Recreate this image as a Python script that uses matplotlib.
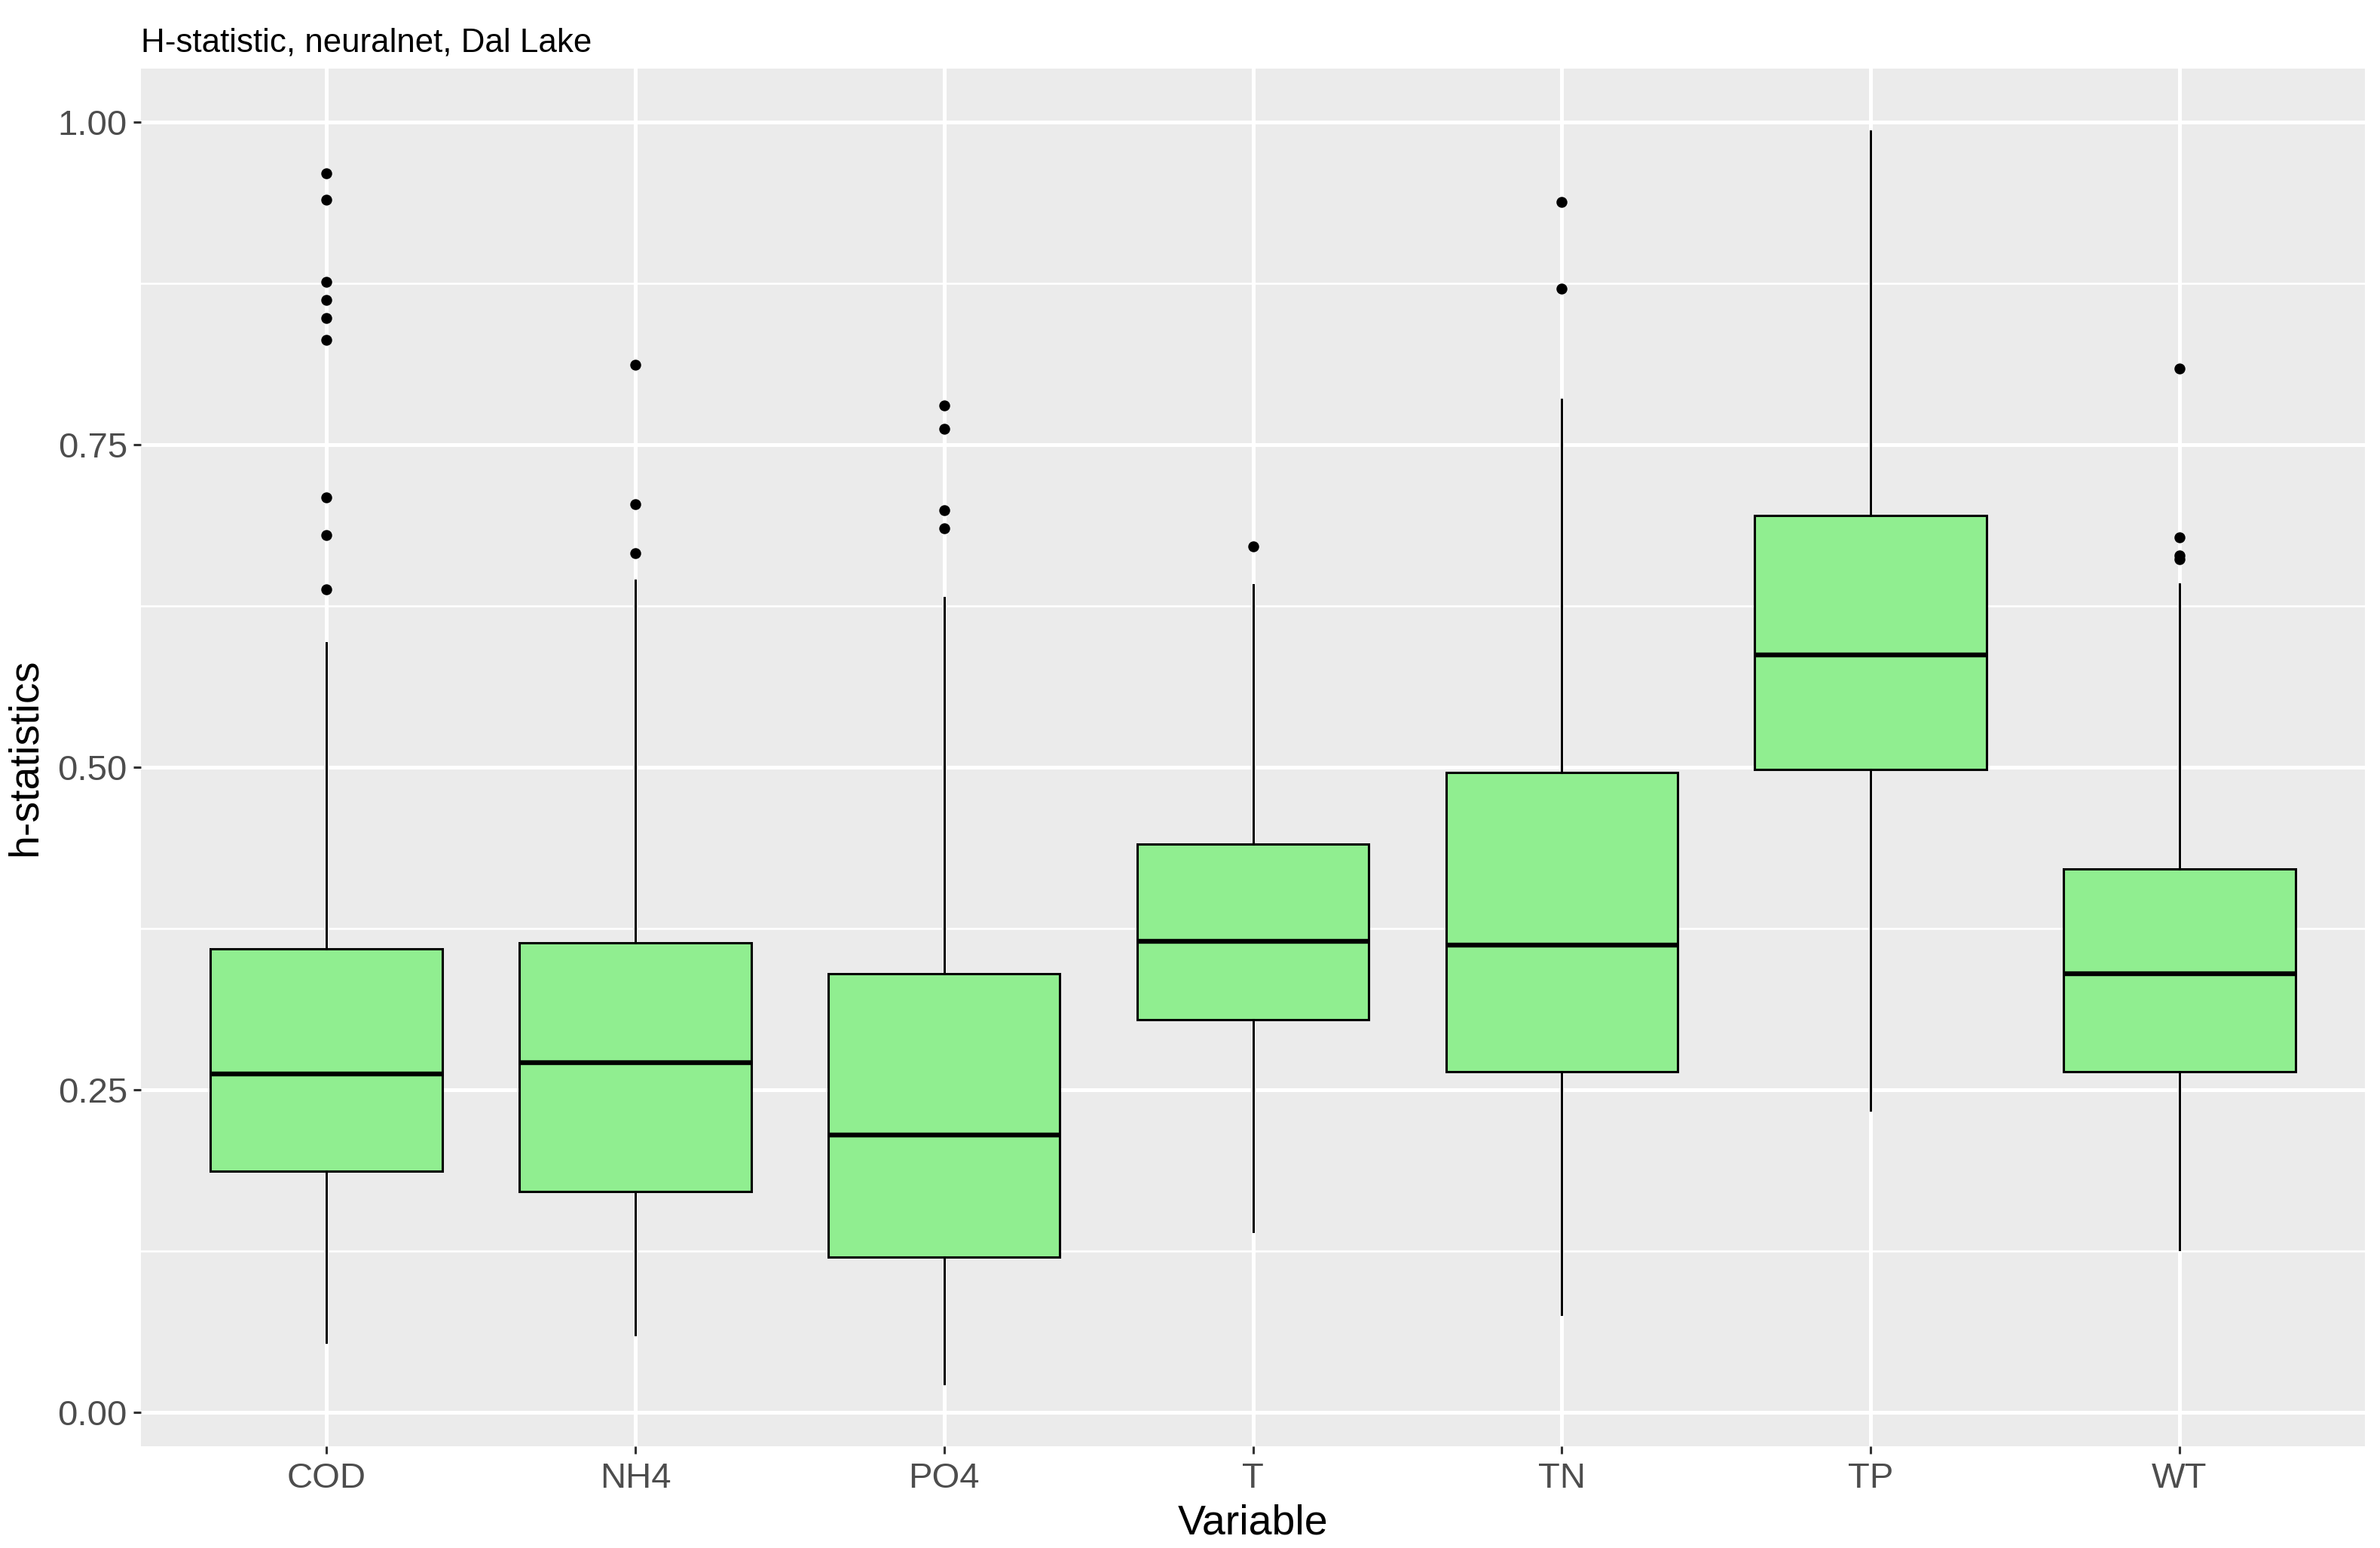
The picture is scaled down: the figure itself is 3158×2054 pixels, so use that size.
import matplotlib
matplotlib.use("Agg")
import matplotlib.pyplot as plt
from matplotlib.ticker import MultipleLocator

# values
variables = ["COD", "NH4", "PO4", "T", "TN", "TP", "WT"]
q1 = [0.187, 0.171, 0.120, 0.304, 0.264, 0.498, 0.264]
medians = [0.262, 0.271, 0.215, 0.365, 0.362, 0.587, 0.340]
q3 = [0.359, 0.364, 0.340, 0.440, 0.496, 0.695, 0.421]
whislo = [0.054, 0.060, 0.022, 0.140, 0.076, 0.234, 0.126]
whishi = [0.596, 0.645, 0.631, 0.641, 0.785, 0.993, 0.642]
outliers = [
    [0.960, 0.940, 0.876, 0.862, 0.848, 0.831, 0.709, 0.680, 0.638],
    [0.812, 0.704, 0.666],
    [0.780, 0.762, 0.699, 0.685],
    [0.671],
    [0.938, 0.871],
    [],
    [0.809, 0.678, 0.664, 0.661],
]

plt.rcParams["font.family"] = ["Liberation Sans", "DejaVu Sans"]

stats = []
for i, v in enumerate(variables):
    stats.append({"label": v, "q1": q1[i], "med": medians[i], "q3": q3[i],
                  "whislo": whislo[i], "whishi": whishi[i], "fliers": outliers[i]})

fig = plt.figure(figsize=(15.79, 10.27), dpi=200)
ax = fig.add_axes([0.0593, 0.0657, 0.9343, 0.8902])
ax.set_facecolor("#EBEBEB")

ax.bxp(stats, positions=range(1, 8), widths=0.75, patch_artist=True,
       showcaps=False,
       boxprops=dict(facecolor="#90EE90", edgecolor="black", linewidth=1.1),
       medianprops=dict(color="black", linewidth=2.3, solid_capstyle="butt"),
       whiskerprops=dict(color="black", linewidth=1.1),
       flierprops=dict(marker="o", markerfacecolor="black", markeredgecolor="black",
                       markersize=4.2, linestyle="none"),
       zorder=3)

ax.set_xlim(0.4, 7.6)
ax.set_ylim(-0.0265, 1.0416)
ax.set_xticks(range(1, 8))
ax.set_xticklabels(variables)
ax.yaxis.set_major_locator(MultipleLocator(0.25))
ax.yaxis.set_minor_locator(MultipleLocator(0.125))
ax.set_yticks([0, 0.25, 0.5, 0.75, 1.0])
ax.set_yticklabels(["0.00", "0.25", "0.50", "0.75", "1.00"])

ax.grid(which="major", color="white", linewidth=1.8, zorder=0)
ax.grid(which="minor", axis="y", color="white", linewidth=0.9, zorder=0)
ax.set_axisbelow(True)
for s in ax.spines.values():
    s.set_visible(False)

ax.tick_params(which="major", length=3.6, width=1.1, color="#333333",
               labelsize=17, labelcolor="#4D4D4D", pad=3)
ax.tick_params(axis="x", which="major", pad=4)
ax.tick_params(which="minor", length=0)

ax.set_xlabel("Variable", fontsize=20, labelpad=4)
ax.set_ylabel("h-statistics", fontsize=20, labelpad=6)
ax.set_title("H-statistic, neuralnet, Dal Lake", fontsize=15.8, loc="left", pad=8)

fig.savefig("out.png", dpi=200)
